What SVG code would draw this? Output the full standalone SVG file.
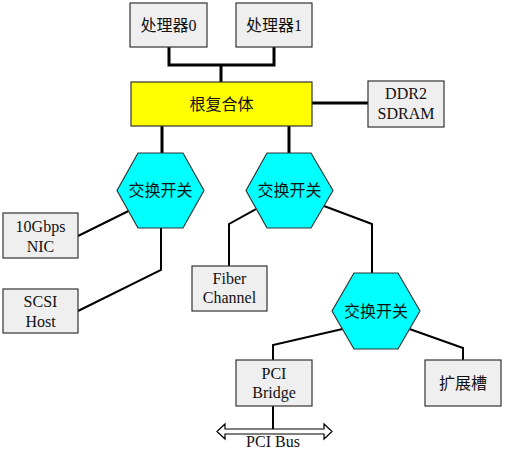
<svg xmlns="http://www.w3.org/2000/svg" width="525" height="458" viewBox="0 0 525 458">
<style>
text{font-family:"Liberation Serif","Noto Sans CJK SC",serif;font-size:16px;fill:#111;text-anchor:middle}
.box{fill:#efefef;stroke:#333;stroke-width:1.2}
.hex{fill:#00ffff;stroke:#333;stroke-width:1.2}
.root{fill:#ffff00;stroke:#333;stroke-width:1.2}
.thick{fill:none;stroke:#000;stroke-width:3}
.thin{fill:none;stroke:#000;stroke-width:2}
</style>
<rect width="525" height="458" fill="#fff"/>
<g id="connectors">
<polyline class="thick" points="169,47 169,65 274,65 274,47"/>
<line class="thick" x1="221" y1="65" x2="221" y2="82"/>
<line class="thick" x1="312" y1="103" x2="368" y2="103"/>
<line class="thick" x1="162" y1="126" x2="162" y2="153"/>
<line class="thick" x1="289" y1="126" x2="289" y2="153"/>
<line class="thin" x1="78" y1="236" x2="128.5" y2="211"/>
<polyline class="thin" points="161,228 161,270 78,311"/>
<polyline class="thin" points="256,209 229,224 229,266"/>
<polyline class="thin" points="324,206 372,224 372,273"/>
<polyline class="thin" points="342.5,329 273,345 273,360"/>
<polyline class="thin" points="409.5,329 463,348 463,360"/>
<line class="thin" x1="273" y1="406" x2="273" y2="429"/>
<polygon points="217,431.5 225,424 225,429 324,429 324,424 332,431.5 324,439 324,434 225,434 225,439" fill="#fff" stroke="#000" stroke-width="1.2"/>
</g>
<g id="cpu0"><rect class="box" x="130" y="3" width="77" height="44"/><text x="168.5" y="31">处理器0</text></g>
<g id="cpu1"><rect class="box" x="236" y="3" width="76" height="44"/><text x="274" y="31">处理器1</text></g>
<g id="root"><rect class="root" x="131" y="82" width="181" height="44"/><text x="221.5" y="110">根复合体</text></g>
<g id="ddr2"><rect class="box" x="368" y="81" width="76" height="46"/><text x="406" y="99">DDR2</text><text x="406" y="119">SDRAM</text></g>
<g id="switch1"><polygon class="hex" points="117,190.5 138,153 183,153 204,190.5 183,228 138,228"/><text x="160.5" y="196">交换开关</text></g>
<g id="switch2"><polygon class="hex" points="246,190.5 267,153 311,153 333,190.5 311,228 267,228"/><text x="289.5" y="196">交换开关</text></g>
<g id="switch3"><polygon class="hex" points="332,311 354,273 398,273 420,311 398,349 354,349"/><text x="376" y="317">交换开关</text></g>
<g id="nic"><rect class="box" x="3" y="213" width="75" height="45"/><text x="40.5" y="232">10Gbps</text><text x="40.5" y="252">NIC</text></g>
<g id="scsi"><rect class="box" x="3" y="289" width="75" height="44"/><text x="40.5" y="307">SCSI</text><text x="40.5" y="327">Host</text></g>
<g id="fiber"><rect class="box" x="192" y="266" width="75" height="45"/><text x="229.5" y="284">Fiber</text><text x="229.5" y="303">Channel</text></g>
<g id="pcibridge"><rect class="box" x="236" y="360" width="76" height="46"/><text x="274" y="379">PCI</text><text x="274" y="398">Bridge</text></g>
<g id="slot"><rect class="box" x="425" y="360" width="76" height="46"/><text x="463" y="389">扩展槽</text></g>
<g id="pcibus"><text x="273" y="447">PCI Bus</text></g>
</svg>
